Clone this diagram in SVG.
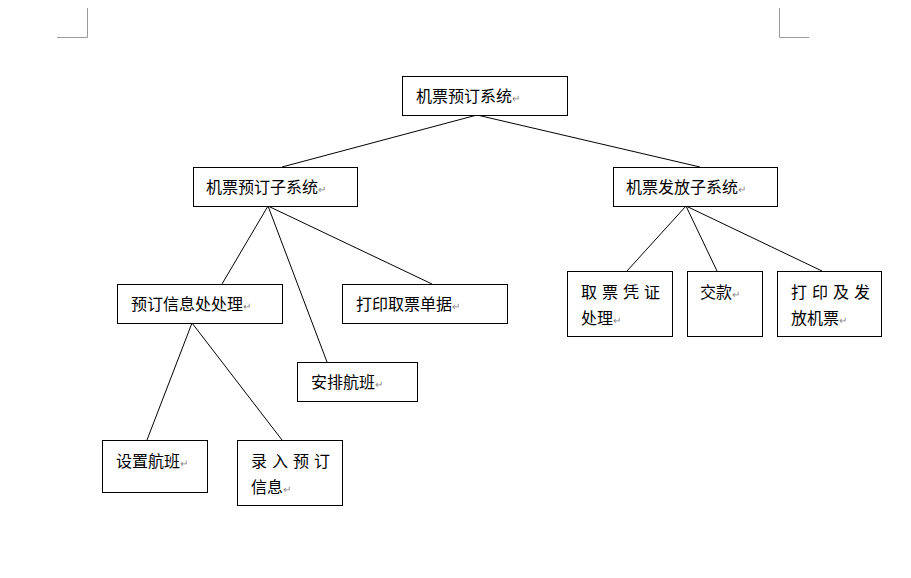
<svg xmlns="http://www.w3.org/2000/svg" width="911" height="578" viewBox="0 0 911 578">
<style>
rect.b{fill:#fff;stroke:#000;stroke-width:1}
text{font-family:"Noto Sans CJK SC","Liberation Sans",sans-serif;font-size:16px;fill:#000}
.m{fill:#888;font-size:10px}
#connectors line{stroke:#000;stroke-width:1}
.crop{stroke:#999;stroke-width:1;fill:none}
</style>
<rect width="911" height="578" fill="#fff"/>
<path class="crop" d="M87.5 8V37.5H57"/>
<path class="crop" d="M779.5 8V37.5H809"/>
<g id="connectors">
<line x1="477" y1="115" x2="282" y2="167"/>
<line x1="477" y1="115" x2="700" y2="167"/>
<line x1="268" y1="206" x2="222" y2="284"/>
<line x1="268" y1="206" x2="327" y2="362"/>
<line x1="268" y1="206" x2="432" y2="284"/>
<line x1="686" y1="206" x2="627" y2="271"/>
<line x1="686" y1="206" x2="717" y2="271"/>
<line x1="686" y1="206" x2="822" y2="271"/>
<line x1="192" y1="323" x2="147" y2="440"/>
<line x1="192" y1="323" x2="282" y2="440"/>
</g>
<g id="root"><rect class="b" x="402.5" y="76.5" width="165" height="39"/><text x="416" y="102">机票预订系统<tspan class="m">↵</tspan></text></g>
<g id="sub1"><rect class="b" x="193.5" y="167.5" width="164" height="39"/><text x="206" y="193">机票预订子系统<tspan class="m">↵</tspan></text></g>
<g id="sub2"><rect class="b" x="613.5" y="167.5" width="164" height="39"/><text x="626" y="193">机票发放子系统<tspan class="m">↵</tspan></text></g>
<g id="n_qupiao"><rect class="b" x="567.5" y="271.5" width="105" height="65"/><text x="581" y="298" letter-spacing="5">取票凭证</text><text x="581" y="324">处理<tspan class="m">↵</tspan></text></g>
<g id="n_jiaokuan"><rect class="b" x="687.5" y="271.5" width="75" height="65"/><text x="700" y="298">交款<tspan class="m">↵</tspan></text></g>
<g id="n_dayin_fafang"><rect class="b" x="777.5" y="271.5" width="104" height="65"/><text x="791" y="298" letter-spacing="5">打印及发</text><text x="791" y="324">放机票<tspan class="m">↵</tspan></text></g>
<g id="n_yuding"><rect class="b" x="117.5" y="284.5" width="165" height="39"/><text x="131" y="310">预订信息处处理<tspan class="m">↵</tspan></text></g>
<g id="n_dayin_qupiao"><rect class="b" x="342.5" y="284.5" width="165" height="39"/><text x="356" y="310">打印取票单据<tspan class="m">↵</tspan></text></g>
<g id="n_anpai"><rect class="b" x="297.5" y="362.5" width="120" height="39"/><text x="311" y="388">安排航班<tspan class="m">↵</tspan></text></g>
<g id="n_shezhi"><rect class="b" x="102.5" y="440.5" width="105" height="52"/><text x="116" y="467">设置航班<tspan class="m">↵</tspan></text></g>
<g id="n_luru"><rect class="b" x="237.5" y="440.5" width="105" height="65"/><text x="251" y="467" letter-spacing="5">录入预订</text><text x="251" y="493">信息<tspan class="m">↵</tspan></text></g>
</svg>
